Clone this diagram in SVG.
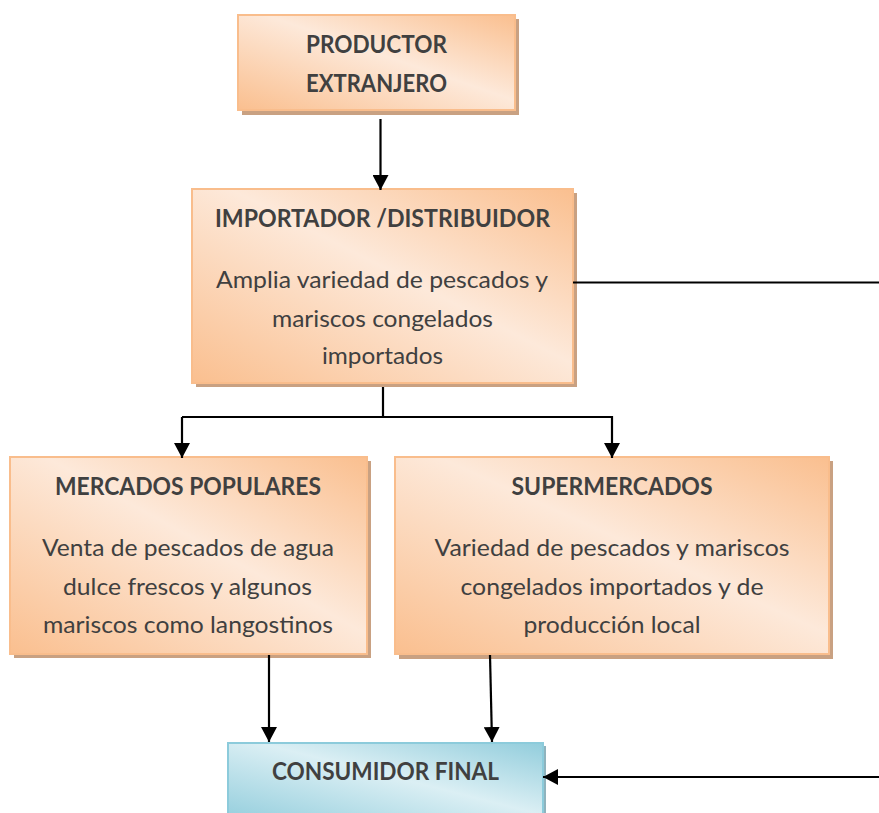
<svg xmlns="http://www.w3.org/2000/svg" width="879" height="813" viewBox="0 0 879 813">
  <defs>
    <linearGradient id="gOrange" x1="0" y1="1" x2="1" y2="0">
      <stop offset="0" stop-color="#fabf8f"/>
      <stop offset="0.55" stop-color="#fde9da"/>
      <stop offset="1" stop-color="#fabf8f"/>
    </linearGradient>
    <linearGradient id="gBlue" x1="0" y1="1" x2="1" y2="0">
      <stop offset="0" stop-color="#92cddc"/>
      <stop offset="0.55" stop-color="#dbeff4"/>
      <stop offset="1" stop-color="#92cddc"/>
    </linearGradient>
    <marker id="arrow" viewBox="0 0 15 16" refX="15" refY="8" markerWidth="15" markerHeight="16" markerUnits="userSpaceOnUse" orient="auto">
      <path d="M0,0 L15,8 L0,16 Z" fill="#000"/>
    </marker>
  </defs>
  <style>
    .shadow { fill: #c9a182; }
    .shadowB { fill: #8fb3bd; }
    .boxO { fill: url(#gOrange); stroke: #f9bd8c; stroke-width: 2; }
    .boxB { fill: url(#gBlue); stroke: #8ccbdb; stroke-width: 2; }
    text { font-family: Lato, Carlito, "Liberation Sans", sans-serif; fill: #404040; text-anchor: middle; font-size: 24px; }
    .t { font-weight: 700; }
    .conn { stroke: #000; stroke-width: 2.2; fill: none; }
  </style>

  <g id="productor">
    <rect class="shadow" x="242" y="19" width="277" height="96"/>
    <rect class="boxO" x="238" y="15" width="277" height="95"/>
    <text class="t" x="376.5" y="53" textLength="141" lengthAdjust="spacingAndGlyphs">PRODUCTOR</text>
    <text class="t" x="376.5" y="92" textLength="141" lengthAdjust="spacingAndGlyphs">EXTRANJERO</text>
  </g>

  <g id="importador">
    <rect class="shadow" x="196" y="193" width="381" height="194"/>
    <rect class="boxO" x="192" y="189" width="381" height="194"/>
    <text class="t" x="382.5" y="226.5" textLength="335" lengthAdjust="spacingAndGlyphs">IMPORTADOR /DISTRIBUIDOR</text>
    <text x="382" y="288" textLength="332" lengthAdjust="spacingAndGlyphs">Amplia variedad de pescados y</text>
    <text x="382.5" y="326.5" textLength="221" lengthAdjust="spacingAndGlyphs">mariscos congelados</text>
    <text x="382.5" y="363.5" textLength="121" lengthAdjust="spacingAndGlyphs">importados</text>
  </g>

  <g id="mercados">
    <rect class="shadow" x="14" y="461" width="357" height="197"/>
    <rect class="boxO" x="10" y="457" width="357" height="197"/>
    <text class="t" x="188" y="495" textLength="266" lengthAdjust="spacingAndGlyphs">MERCADOS POPULARES</text>
    <text x="188" y="556" textLength="292" lengthAdjust="spacingAndGlyphs">Venta de pescados de agua</text>
    <text x="187.5" y="594.5" textLength="249" lengthAdjust="spacingAndGlyphs">dulce frescos y algunos</text>
    <text x="188" y="633" textLength="290" lengthAdjust="spacingAndGlyphs">mariscos como langostinos</text>
  </g>

  <g id="supermercados">
    <rect class="shadow" x="399" y="461" width="434" height="198"/>
    <rect class="boxO" x="395" y="457" width="434" height="197"/>
    <text class="t" x="612" y="495" textLength="201" lengthAdjust="spacingAndGlyphs">SUPERMERCADOS</text>
    <text x="612" y="556" textLength="355" lengthAdjust="spacingAndGlyphs">Variedad de pescados y mariscos</text>
    <text x="612" y="594.5" textLength="303" lengthAdjust="spacingAndGlyphs">congelados importados y de</text>
    <text x="612" y="633" textLength="177" lengthAdjust="spacingAndGlyphs">producción local</text>
  </g>

  <g id="consumidor">
    <rect class="shadowB" x="231" y="746" width="315" height="80"/>
    <rect class="boxB" x="228" y="743" width="315" height="80"/>
    <text class="t" x="385.5" y="780" textLength="227" lengthAdjust="spacingAndGlyphs">CONSUMIDOR FINAL</text>
  </g>

  <g id="connectors">
    <line class="conn" x1="380.5" y1="119" x2="380.5" y2="190" marker-end="url(#arrow)"/>
    <polyline class="conn" points="383,387 383,417"/>
    <polyline class="conn" points="182,417 612,417 612,458" marker-end="url(#arrow)"/>
    <line class="conn" x1="182" y1="417" x2="182" y2="458" marker-end="url(#arrow)"/>
    <line class="conn" x1="573" y1="282.5" x2="879" y2="282.5"/>
    <line class="conn" x1="879" y1="777" x2="543" y2="777" marker-end="url(#arrow)"/>
    <line class="conn" x1="269" y1="655" x2="269" y2="742" marker-end="url(#arrow)"/>
    <line class="conn" x1="490" y1="655" x2="492" y2="742" marker-end="url(#arrow)"/>
  </g>
</svg>
